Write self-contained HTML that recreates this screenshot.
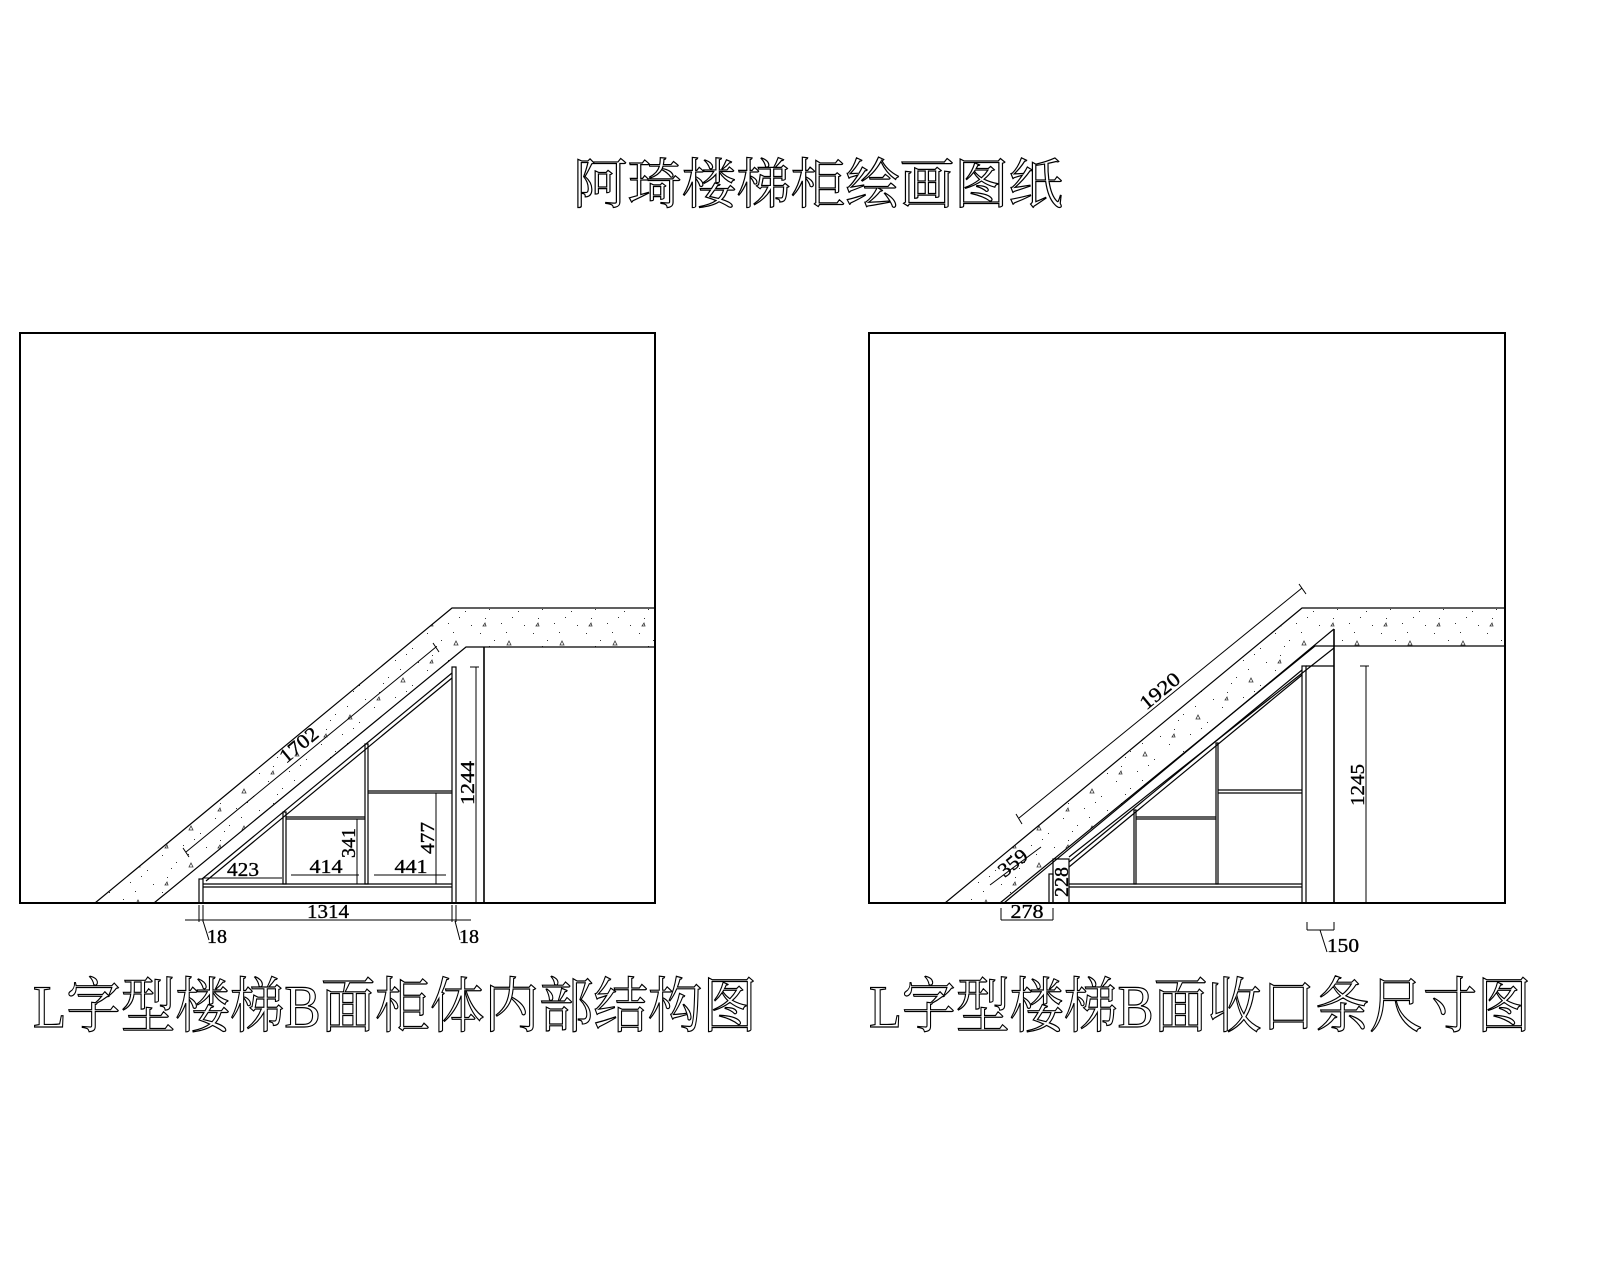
<!DOCTYPE html>
<html><head><meta charset="utf-8"><style>
html,body{margin:0;padding:0;background:#fff}
svg{display:block}
.t{font-family:"Liberation Serif","Noto Serif CJK SC",serif;fill:#000;stroke:#000;stroke-width:0.35}
.h{font-family:"Liberation Serif","Noto Serif CJK SC",serif;fill:#fff;stroke:#000;stroke-width:1.2}
</style></head><body>
<svg width="1600" height="1280" viewBox="0 0 1600 1280" xmlns="http://www.w3.org/2000/svg">
<defs>
<pattern id="dots" width="53" height="37" patternUnits="userSpaceOnUse">
<rect x="3" y="4" width="1" height="1" fill="#333"/>
<rect x="17" y="11" width="1" height="1" fill="#333"/>
<rect x="29" y="3" width="1" height="1" fill="#333"/>
<rect x="41" y="19" width="1" height="1" fill="#333"/>
<rect x="8" y="26" width="1" height="1" fill="#333"/>
<rect x="24" y="31" width="1" height="1" fill="#333"/>
<rect x="47" y="33" width="1" height="1" fill="#333"/>
<rect x="35" y="25" width="1" height="1" fill="#333"/>
<rect x="12" y="17" width="1" height="1" fill="#333"/>
<path d="M30 16 l4 0 l-2 -4 z" fill="none" stroke="#333" stroke-width="0.8"/>
<path d="M6 34 l3 0 l-1 -3 z" fill="none" stroke="#333" stroke-width="0.8"/>
</pattern>
</defs>
<g fill="none" stroke="#000" stroke-width="1.3">
<rect x="20" y="333" width="635" height="570" stroke-width="2"/>
<rect x="869" y="333" width="636" height="570" stroke-width="2"/>
</g>
<polygon points="95,903 452,608 655,608 655,647 466,647 154,903" fill="url(#dots)" stroke="#000" stroke-width="1.2"/>
<polygon points="945,903 1302,608 1505,608 1505,646 1315,646 1000,903" fill="url(#dots)" stroke="#000" stroke-width="1.2"/>
<g fill="none" stroke="#000" stroke-width="1.2">
<line x1="484" y1="647" x2="484" y2="903" stroke-width="1.6"/>
<line x1="202" y1="879" x2="452" y2="673"/>
<line x1="206" y1="881" x2="452" y2="678"/>
<rect x="199" y="879" width="4" height="24"/>
<rect x="452" y="667" width="4" height="236"/>
<line x1="203" y1="884" x2="452" y2="884"/>
<line x1="203" y1="887" x2="452" y2="887"/>
<rect x="283" y="812" width="3" height="72"/>
<rect x="365" y="744" width="3" height="140"/>
<line x1="286" y1="817" x2="365" y2="817"/><line x1="286" y1="819" x2="365" y2="819"/>
<line x1="368" y1="791" x2="452" y2="791"/><line x1="368" y1="793" x2="452" y2="793"/>
<line x1="476" y1="667" x2="476" y2="903" stroke-width="1"/>
<line x1="470" y1="667" x2="479" y2="667" stroke-width="1"/>
<line x1="436" y1="793" x2="436" y2="884" stroke-width="1"/>
<line x1="357" y1="819" x2="357" y2="884" stroke-width="1"/>
<line x1="203" y1="878" x2="282" y2="878" stroke-width="1"/>
<line x1="291" y1="875" x2="359" y2="875" stroke-width="1"/>
<line x1="374" y1="875" x2="446" y2="875" stroke-width="1"/>
<line x1="185" y1="920" x2="471" y2="920" stroke-width="1"/>
<line x1="199" y1="905" x2="199" y2="922" stroke-width="1"/><line x1="203" y1="905" x2="203" y2="922" stroke-width="1"/>
<line x1="452" y1="905" x2="452" y2="922" stroke-width="1"/><line x1="456" y1="905" x2="456" y2="922" stroke-width="1"/>
<line x1="203" y1="921" x2="209" y2="940" stroke-width="1"/>
<line x1="455" y1="921" x2="460" y2="940" stroke-width="1"/>
<line x1="186" y1="852" x2="436" y2="647" stroke-width="1"/>
<line x1="183" y1="848" x2="189" y2="857" stroke-width="1"/>
<line x1="433" y1="643" x2="439" y2="652" stroke-width="1"/>
<line x1="1334" y1="629" x2="1334" y2="903" stroke-width="1.6"/>
<line x1="1004" y1="903" x2="1334" y2="629"/>
<line x1="1069" y1="857" x2="1334" y2="648"/>
<line x1="1069" y1="862" x2="1302" y2="670"/>
<line x1="1069" y1="867" x2="1302" y2="675"/>
<rect x="1302" y="666" width="4" height="237"/>
<line x1="1306" y1="666" x2="1334" y2="666"/>
<rect x="1049" y="874" width="4" height="29"/>
<rect x="1053" y="859" width="16" height="44"/>
<line x1="1069" y1="884" x2="1302" y2="884"/>
<line x1="1069" y1="887" x2="1302" y2="887"/>
<rect x="1134" y="810" width="2" height="74"/>
<rect x="1216" y="743" width="2" height="141"/>
<line x1="1136" y1="817" x2="1216" y2="817"/><line x1="1136" y1="819" x2="1216" y2="819"/>
<line x1="1218" y1="790" x2="1302" y2="790"/><line x1="1218" y1="793" x2="1302" y2="793"/>
<line x1="1366" y1="666" x2="1366" y2="903" stroke-width="1"/>
<line x1="1360" y1="666" x2="1369" y2="666" stroke-width="1"/>
<line x1="1019" y1="818" x2="1302" y2="588" stroke-width="1"/>
<line x1="1016" y1="814" x2="1022" y2="824" stroke-width="1"/>
<line x1="1299" y1="584" x2="1306" y2="594" stroke-width="1"/>
<line x1="990" y1="885" x2="1041" y2="847" stroke-width="1"/>
<line x1="1001" y1="908" x2="1001" y2="920" stroke-width="1"/>
<line x1="1053" y1="908" x2="1053" y2="920" stroke-width="1"/>
<line x1="1001" y1="920" x2="1053" y2="920" stroke-width="1"/>
<line x1="1307" y1="922" x2="1307" y2="930" stroke-width="1"/>
<line x1="1334" y1="922" x2="1334" y2="930" stroke-width="1"/>
<line x1="1307" y1="930" x2="1334" y2="930" stroke-width="1"/>
<line x1="1320" y1="930" x2="1327" y2="952" stroke-width="1"/>
</g>
<g class="t" font-size="20">
<text x="243" y="876" text-anchor="middle" textLength="32" lengthAdjust="spacingAndGlyphs">423</text>
<text x="326" y="873" text-anchor="middle" textLength="33" lengthAdjust="spacingAndGlyphs">414</text>
<text x="411" y="873" text-anchor="middle" textLength="33" lengthAdjust="spacingAndGlyphs">441</text>
<text x="328" y="918" text-anchor="middle" textLength="42" lengthAdjust="spacingAndGlyphs">1314</text>
<text x="207" y="943" textLength="20" lengthAdjust="spacingAndGlyphs">18</text>
<text x="459" y="943" textLength="20" lengthAdjust="spacingAndGlyphs">18</text>
<text transform="translate(355,843) rotate(-90)" text-anchor="middle" textLength="30" lengthAdjust="spacingAndGlyphs">341</text>
<text transform="translate(434,838) rotate(-90)" text-anchor="middle" textLength="32" lengthAdjust="spacingAndGlyphs">477</text>
<text transform="translate(474,783) rotate(-90)" text-anchor="middle" textLength="44" lengthAdjust="spacingAndGlyphs">1244</text>
<text transform="translate(303,750) rotate(-39.5)" text-anchor="middle" textLength="44" lengthAdjust="spacingAndGlyphs">1702</text>
<text transform="translate(1164,696) rotate(-39.5)" text-anchor="middle" textLength="46" lengthAdjust="spacingAndGlyphs">1920</text>
<text transform="translate(1017,868) rotate(-39.5)" text-anchor="middle" textLength="32" lengthAdjust="spacingAndGlyphs">359</text>
<text transform="translate(1068,882) rotate(-90)" text-anchor="middle" textLength="30" lengthAdjust="spacingAndGlyphs">228</text>
<text x="1027" y="918" text-anchor="middle" textLength="33" lengthAdjust="spacingAndGlyphs">278</text>
<text transform="translate(1364,785) rotate(-90)" text-anchor="middle" textLength="42" lengthAdjust="spacingAndGlyphs">1245</text>
<text x="1327" y="952" textLength="32" lengthAdjust="spacingAndGlyphs">150</text>
</g>
<text class="h" x="573" y="203" font-size="54" textLength="490" lengthAdjust="spacingAndGlyphs">阿琦楼梯柜绘画图纸</text>
<text class="h" x="33" y="1027" font-size="60" textLength="724" lengthAdjust="spacingAndGlyphs">L字型楼梯B面柜体内部结构图</text>
<text class="h" x="869" y="1027" font-size="60" textLength="662" lengthAdjust="spacingAndGlyphs">L字型楼梯B面收口条尺寸图</text>
</svg>
</body></html>
